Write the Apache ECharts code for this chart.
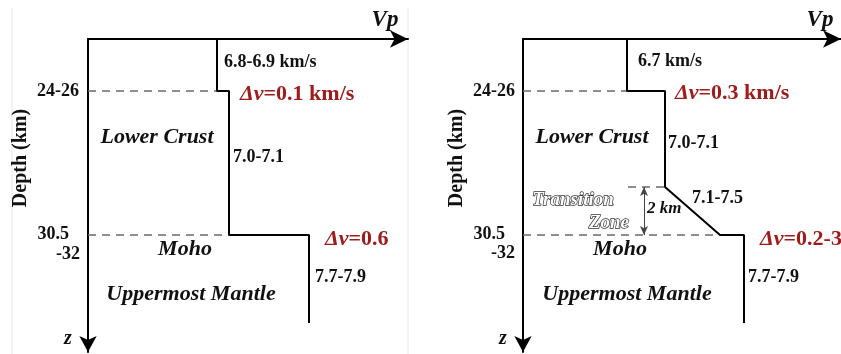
<!DOCTYPE html>
<html>
<head>
<meta charset="utf-8">
<script src="https://cdn.jsdelivr.net/npm/echarts@6/dist/echarts.min.js"></script>
<style>
  html, body { margin: 0; padding: 0; background: #fff; }
  #chart { width: 841px; height: 354px; }
</style>
</head>
<body>
<div id="chart"></div>
<script>
// schematic units: x = Vp offset from the depth axis, y = depth offset below the Vp axis
const profileA = [[129, 0], [129, 52], [141, 52], [141, 196], [221, 196], [221, 284]]
const profileB = [[104, 0], [104, 52], [142, 52], [142, 148], [197, 196], [221, 196], [221, 284]]
const dashesA = [[[0, 52], [129, 52]], [[0, 196], [141, 196]]]
const dashesB = [[[0, 52], [104, 52]], [[105, 148], [142, 148]], [[0, 196], [197, 196]]]
const transitionArrow = [[121, 148], [121, 196]]
const depthLabels = ['24-26', '30.5', '-32']

const serif = 'Liberation Serif, Times New Roman, serif'
const red = '#a01c1c'

const makeAxes = (idx, w) => ({
  x: {
    type: 'value', gridIndex: idx, min: 0, max: w, position: 'top',
    axisLine: { show: true, onZero: false, symbol: ['none', 'arrow'], symbolSize: [13, 18], lineStyle: { color: '#000', width: 2 } },
    axisTick: { show: false }, axisLabel: { show: false }, splitLine: { show: false }
  },
  y: {
    type: 'value', gridIndex: idx, min: 0, max: 313, inverse: true,
    axisLine: { show: true, onZero: false, symbol: ['arrow', 'none'], symbolSize: [13, 16], lineStyle: { color: '#000', width: 2 } },
    axisTick: { show: false }, axisLabel: { show: false }, splitLine: { show: false }
  }
})

const a0 = makeAxes(0, 320)
const a1 = makeAxes(1, 318)

const dashSeries = (segs, idx) => segs.map(s => ({
  type: 'line', xAxisIndex: idx, yAxisIndex: idx, data: s, symbol: 'none', silent: true,
  lineStyle: { color: '#6a6a6a', width: 1.4, type: [8, 6] }
}))

const profileSeries = (d, idx) => ({
  type: 'line', xAxisIndex: idx, yAxisIndex: idx, data: d, symbol: 'none', silent: true,
  lineStyle: { color: '#000', width: 2 }, z: 5
})

const bi = (size) => 'italic bold ' + size + 'px ' + serif
const b = (size) => 'bold ' + size + 'px ' + serif

const txt = (x, y, text, o = {}) => ({
  type: 'text', x, y,
  style: Object.assign({
    text, fill: '#111', font: b(18),
    align: 'left', verticalAlign: 'middle'
  }, o)
})

// red Δv annotation with italic Δv
const dv = (x, y, rest) => ({
  type: 'text', x, y,
  style: {
    text: '{i|Δv}{r|' + rest + '}', align: 'left', verticalAlign: 'middle',
    rich: {
      i: { font: bi(22), fill: red },
      r: { font: b(22), fill: red }
    }
  }
})

const texts = [
  // left panel
  txt(79, 91, depthLabels[0], { align: 'right' }),
  txt(69, 234, depthLabels[1], { align: 'right' }),
  txt(80, 254, depthLabels[2], { align: 'right' }),
  txt(224, 62, '6.8-6.9 km/s'),
  dv(240, 94, '=0.1 km/s'),
  txt(157, 137, 'Lower Crust', { align: 'center', font: bi(22) }),
  txt(233, 157, '7.0-7.1'),
  dv(325, 239, '=0.6'),
  txt(185, 249, 'Moho', { align: 'center', font: bi(22) }),
  txt(315, 277, '7.7-7.9'),
  txt(191, 294, 'Uppermost Mantle', { align: 'center', font: bi(22) }),
  txt(68, 339, 'z', { align: 'center', font: bi(20) }),
  txt(385, 20, 'Vp', { align: 'center', font: bi(23) }),
  { type: 'text', x: 21, y: 158, rotation: Math.PI / 2,
    style: { text: 'Depth (km)', font: b(20), fill: '#111', align: 'center', verticalAlign: 'middle' } },
  // right panel
  txt(515, 91, depthLabels[0], { align: 'right' }),
  txt(505, 234, depthLabels[1], { align: 'right' }),
  txt(515, 253, depthLabels[2], { align: 'right' }),
  txt(638, 61, '6.7 km/s'),
  dv(675, 93, '=0.3 km/s'),
  txt(592, 137, 'Lower Crust', { align: 'center', font: bi(22) }),
  txt(668, 143, '7.0-7.1'),
  txt(692, 198, '7.1-7.5'),
  dv(760, 239, '=0.2-3'),
  txt(620, 249, 'Moho', { align: 'center', font: bi(22) }),
  txt(748, 277, '7.7-7.9'),
  txt(627, 294, 'Uppermost Mantle', { align: 'center', font: bi(22) }),
  txt(503, 339, 'z', { align: 'center', font: bi(20) }),
  txt(820, 20, 'Vp', { align: 'center', font: bi(23) }),
  { type: 'text', x: 457, y: 158, rotation: Math.PI / 2,
    style: { text: 'Depth (km)', font: b(20), fill: '#111', align: 'center', verticalAlign: 'middle' } },
  txt(573, 200, 'Transition', { align: 'center', font: bi(19), fill: '#fff', stroke: '#333', lineWidth: 1.4 }),
  txt(609, 223, 'Zone', { align: 'center', font: bi(19), fill: '#fff', stroke: '#333', lineWidth: 1.4 }),
  txt(647, 209, '2 km', { font: bi(17) }),
  // faint panel frame lines
  { type: 'line', shape: { x1: 12, y1: 8, x2: 12, y2: 354 }, style: { stroke: '#e8e8e8', lineWidth: 1 }, z: -1 },
  { type: 'line', shape: { x1: 408, y1: 8, x2: 408, y2: 354 }, style: { stroke: '#e8e8e8', lineWidth: 1 }, z: -1 }
]

const chart = echarts.init(document.getElementById('chart'), null, { renderer: 'canvas' })
chart.setOption({
  backgroundColor: '#fff',
  animation: false,
  grid: [
    { left: 88, top: 39, width: 320, height: 313 },
    { left: 523, top: 39, width: 318, height: 313 }
  ],
  xAxis: [a0.x, a1.x],
  yAxis: [a0.y, a1.y],
  series: [
    ...dashSeries(dashesA, 0),
    ...dashSeries(dashesB, 1),
    profileSeries(profileA, 0),
    profileSeries(profileB, 1),
    {
      type: 'line', xAxisIndex: 1, yAxisIndex: 1, data: [], silent: true,
      markLine: {
        silent: true, symbol: ['arrow', 'arrow'], symbolSize: [6, 9],
        label: { show: false },
        lineStyle: { color: '#444', width: 1, type: 'solid' },
        data: [[{ coord: transitionArrow[0] }, { coord: transitionArrow[1] }]]
      }
    }
  ],
  graphic: texts
})
</script>
</body>
</html>
